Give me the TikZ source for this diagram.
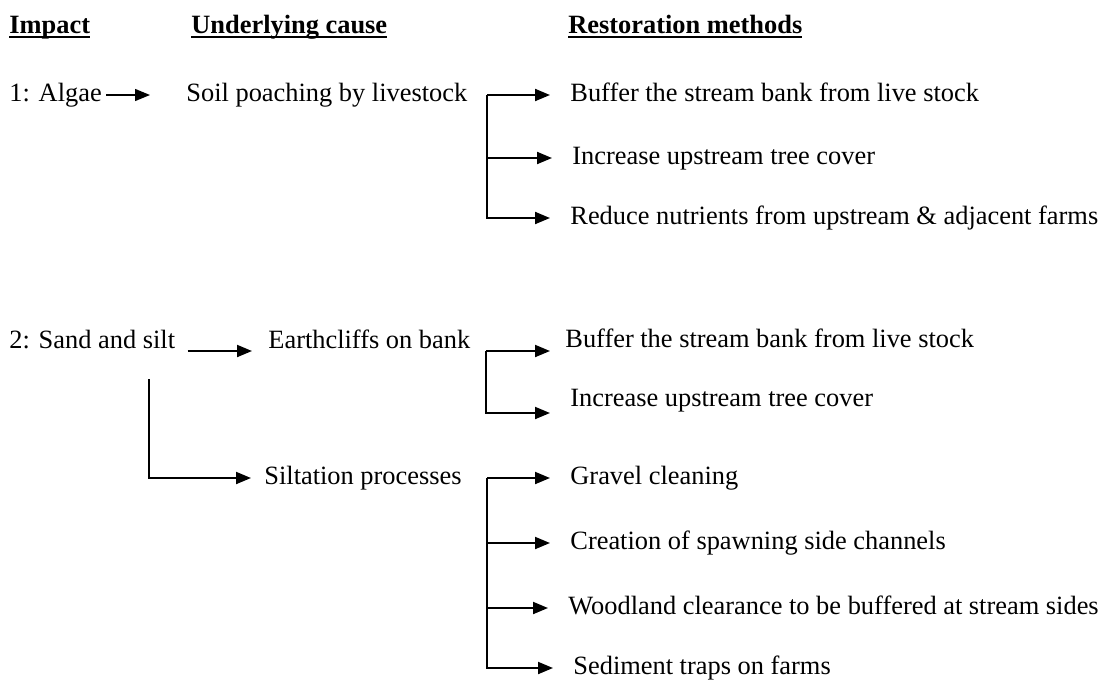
\documentclass[tikz,border=0pt]{standalone}
\usepackage{fontspec}
\setmainfont{Liberation Serif}
\usetikzlibrary{arrows.meta}
\newcommand{\headtxt}[1]{\setbox0=\hbox{\bfseries #1}\rlap{\rule[-2.4pt]{\wd0}{1pt}}\box0}

\begin{document}
\begin{tikzpicture}[x=0.5pt,y=-0.5pt,
  every node/.style={font=\fontsize{13.2}{15}\selectfont,inner sep=0pt,anchor=west,text height=9.5pt,text depth=3.5pt},
  link/.style={line width=1pt,-{Triangle[length=7.5pt,width=6pt]}}]
  \useasboundingbox (0,0) rectangle (1110,687);
  % column headers
  \node (impact) at (9,27){\headtxt{Impact}};
  \node (cause) at (191,27){\headtxt{Underlying cause}};
  \node (restore) at (568,27){\headtxt{Restoration methods}};
  % impact 1: algae
  \node (algae) at (9,95){1: Algae};
  \node (poach) at (186,95){Soil poaching by livestock};
  \draw[link,line width=0.7pt,shorten <=2pt,shorten >=18pt](algae)--(poach);
  \coordinate (fork1) at (487,95);
  \foreach \nm/\xx/\yy/\txt in {bufA/570/95/Buffer the stream bank from live stock,
      incA/572/158/Increase upstream tree cover,
      redA/570/218/Reduce nutrients from upstream \& adjacent farms}{
    \node (\nm) at (\xx,\yy){\txt};
    \draw[link,shorten >=10pt](fork1)|-(\nm.west);
  }
  % impact 2: sand and silt
  \node (sand) at (9,342){2: Sand and silt};
  \node (cliffs) at (268,342){Earthcliffs on bank};
  \draw[link,shorten <=6pt,shorten >=8pt]([yshift=-4.5pt]sand.east)--([yshift=-4.5pt]cliffs.west);
  \coordinate (fork2) at (486,351);
  \node (bufB) at (565,341){Buffer the stream bank from live stock};
  \node (incB) at (570,400){Increase upstream tree cover};
  \draw[link,shorten >=7.5pt](fork2)--(fork2-|bufB.west);
  \draw[link,shorten >=10pt](fork2)|-([yshift=-6.5pt]incB.west);
  % siltation branch
  \coordinate (drop) at (149,379);
  \node (silt) at (264,478){Siltation processes};
  \draw[link,shorten >=6.5pt](drop)|-(silt.west);
  \coordinate (fork3) at (487,478);
  \foreach \nm/\xx/\yy/\txt in {gravel/570/478/Gravel cleaning,
      spawn/570/543/Creation of spawning side channels,
      wood/568/608/Woodland clearance to be buffered at stream sides,
      trap/573/668/Sediment traps on farms}{
    \node (\nm) at (\xx,\yy){\txt};
    \draw[link,shorten >=10pt](fork3)|-(\nm.west);
  }
\end{tikzpicture}
\end{document}
